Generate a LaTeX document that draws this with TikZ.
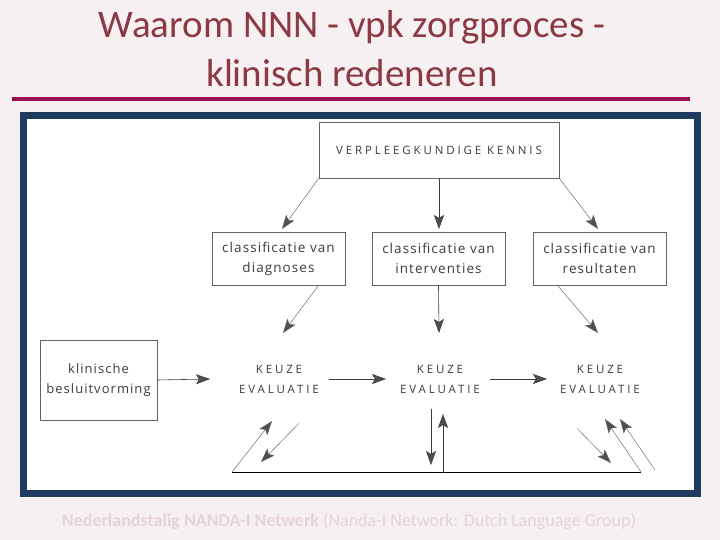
\documentclass[tikz,border=0pt]{standalone}
\usepackage{fontspec}
\setmainfont{Carlito}
\newfontfamily\diag{Open Sans}[LetterSpace=8]
\newfontfamily\diagcaps{Open Sans}[LetterSpace=25]
\usetikzlibrary{arrows.meta}
\definecolor{titlered}{HTML}{8B3A44}
\definecolor{rule}{HTML}{99104F}
\definecolor{frame}{HTML}{1E3A5F}
\definecolor{bg}{HTML}{F7F0F2}
\definecolor{foot}{HTML}{E6D3D6}
\definecolor{ink}{HTML}{3C3C3C}
\definecolor{head}{HTML}{505050}
\tikzset{
  box/.style={draw=ink!80, line width=0.7pt, align=center, inner sep=0pt, text=ink},
  lbl/.style={align=center, text=ink, inner sep=0pt},
  arr/.style={draw=ink, line width=0.6pt, -{Stealth[length=14pt,width=10pt,inset=3pt,fill=head]}},
  thinarr/.style={draw=ink!80, line width=0.45pt, -{Stealth[length=14pt,width=10pt,inset=3pt,fill=head]}},
}
\begin{document}
\begin{tikzpicture}[x=1pt,y=-1pt]
\useasboundingbox (0,0) rectangle (720,540);
\fill[bg] (0,0) rectangle (720,540);
% title
\node[text=titlered, font=\fontsize{39}{44}\selectfont, align=center] (t1) at (352,27) {Waarom NNN - vpk zorgproces -};
\node[text=titlered, font=\fontsize{39}{44}\selectfont, align=center] (t2) at (352,73) {klinisch redeneren};
\draw[rule, line width=4pt] (12,99) -- (690,99);
% frame
\draw[frame, line width=7pt, fill=white] (23.5,115.5) rectangle (697.5,493.5);
% footer
\node[text=foot, font=\fontsize{18}{20}\selectfont] (foot) at (349,521) {\textbf{Nederlandstalig NANDA-I Netwerk} (Nanda-I Network: Dutch Language Group)};
% nodes
\node[box, minimum width=240pt, minimum height=56pt, font=\diagcaps\fontsize{11.5}{13}\selectfont] (vk) at (439,150) {VERPLEEGKUNDIGE KENNIS};
\node[box, minimum width=133pt, minimum height=53pt, font=\diag\fontsize{13.5}{20}\selectfont] (cd) at (278.5,258.5) {classificatie van\\diagnoses};
\node[box, minimum width=133pt, minimum height=53pt, font=\diag\fontsize{13.5}{20}\selectfont] (ci) at (438.5,258.5) {classificatie van\\interventies};
\node[box, minimum width=133pt, minimum height=53pt, font=\diag\fontsize{13.5}{20}\selectfont] (cr) at (599.5,258.5) {classificatie van\\resultaten};
\node[box, minimum width=117pt, minimum height=80pt, font=\diag\fontsize{13}{20}\selectfont] (kb) at (98.5,380) {klinische\\besluitvorming};
\node[lbl, font=\diagcaps\fontsize{11.5}{20}\selectfont] (k1) at (279,379) {KEUZE\\EVALUATIE};
\node[lbl, font=\diagcaps\fontsize{11.5}{20}\selectfont] (k2) at (440,379) {KEUZE\\EVALUATIE};
\node[lbl, font=\diagcaps\fontsize{11.5}{20}\selectfont] (k3) at (600,379) {KEUZE\\EVALUATIE};
% top arrows
\draw[thinarr] (vk.south west) -- (282,229);
\draw[arr] (vk.south) -- (439,229);
\draw[thinarr] (vk.south east) -- (598,229);
\draw[thinarr] (cd.south) ++(40,0) -- (283,333);
\draw[arr] (ci.south) -- (439,333);
\draw[thinarr] (cr.south) ++(-42,0) -- (598,333);
% horizontal arrows
\draw[arr] (kb.east) -- (210,379);
\draw[arr] (k1.east) ++(10,0) -- (386,379);
\draw[arr] (k2.east) ++(10,0) -- (547,379);
% bottom loop
\coordinate (bl) at (232,472);
\coordinate (br) at (641,472);
\draw[line width=0.9pt, black] (bl) -- (br);
\draw[thinarr] (bl) -- (272,421);
\draw[thinarr] (k1.south) ++(20,30) -- (261,462);
\draw[arr] (k2.south) ++(-9,16) -- (431,465);
\draw[arr] (443,473) -- (443,414);
\draw[thinarr] (k3.south) ++(-23,35) -- (611,463);
\draw[thinarr] (br) -- (605,419);
\draw[thinarr] (655,470) -- (620,419);
\end{tikzpicture}
\end{document}
